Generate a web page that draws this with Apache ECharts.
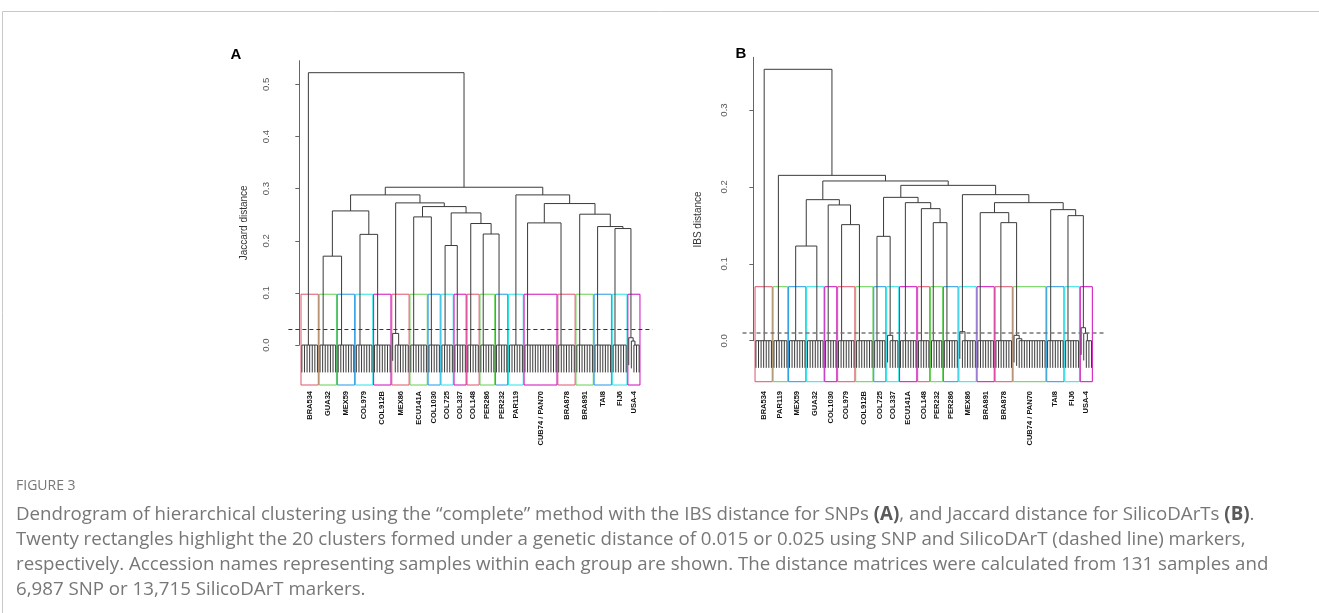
<!DOCTYPE html>
<html>
<head>
<meta charset="utf-8">
<script src="https://cdn.jsdelivr.net/npm/echarts@6/dist/echarts.min.js"></script>
<style>
  html, body { margin: 0; padding: 0; background: #fff; }
  #chart { width: 1319px; height: 613px; }
</style>
</head>
<body>
<div id="chart"></div>
<script>
// ---- panel A: SilicoDArT markers, Jaccard distance ----
// leaves per cluster (left to right), 131 samples in total
const sizesA = [7, 7, 7, 7, 7, 7, 7, 5, 5, 5, 5, 6, 5, 6, 13, 7, 7, 7, 6, 5]
const labelsA = ['BRA534', 'GUA32', 'MEX59', 'COL979', 'COL912B', 'MEX86', 'ECU141A', 'COL1030',
  'COL725', 'COL337', 'COL148', 'PER286', 'PER232', 'PAR119', 'CUB74 / PAN70', 'BRA878',
  'BRA891', 'TAI8', 'FIJ6', 'USA-4']
// where the near-zero sub tree of each cluster joins upward (leaf units from its first leaf)
const anchorsA = [2.5, 1.2, 1.3, 1.4, 1.2, 1.3, 1.1, 0.9, 1.2, 0.9, 1.1, 0.9, 1.0, 2.5, 1.0, 0.9, 1.1, 1.0, 0.7, 0.4]
// clusters whose first leaves join one by one above zero: [cluster, heights]
const chainsA = [[6, [0.0223]], [20, [0.014, 0.0077]]]
// merges between clusters, R hclust style: negative = cluster, positive = earlier merge
const mergesA = [
  [-2, -3, 0.1705], [-4, -5, 0.2123], [1, 2, 0.2573], [-9, -10, 0.1909], [-12, -13, 0.2130],
  [-11, 5, 0.2331], [4, 6, 0.2535], [-7, -8, 0.2458], [8, 7, 0.2656], [-6, 9, 0.2727],
  [3, 10, 0.2880], [-19, -20, 0.2235], [-18, 12, 0.2273], [-17, 13, 0.2510], [-15, -16, 0.2343],
  [15, 14, 0.2714], [-14, 16, 0.2880], [11, 17, 0.3027], [-1, 18, 0.5224]
]
const cutA = 0.025
const rectTopA = 0.0975
const hangA = 0.0525
const yRangeA = [-0.0766, 0.5454]
const ticksA = [0, 0.1, 0.2, 0.3, 0.4, 0.5]

// ---- panel B: SNP markers, IBS distance ----
const sizesB = [7, 6, 7, 7, 5, 7, 7, 5, 5, 7, 5, 5, 6, 7, 7, 7, 13, 7, 6, 5]
const labelsB = ['BRA534', 'PAR119', 'MEX59', 'GUA32', 'COL1030', 'COL979', 'COL912B', 'COL725',
  'COL337', 'ECU141A', 'COL148', 'PER232', 'PER286', 'MEX86', 'BRA891', 'BRA878',
  'CUB74 / PAN70', 'TAI8', 'FIJ6', 'USA-4']
const anchorsB = [3.2, 1.7, 2.4, 3.6, 1.0, 1.2, 1.1, 0.9, 1.0, 1.9, 1.1, 0.7, 1.0, 1.0, 0.9, 1.9, 1.0, 1.2, 0.9, 0.4]
const chainsB = [[9, [0.007]], [14, [0.0117]], [17, [0.007, 0.0026]], [20, [0.0169, 0.0096]]]
const mergesB = [
  [-3, -4, 0.1231], [-6, -7, 0.1509], [-5, 2, 0.1765], [1, 3, 0.1834], [-8, -9, 0.1357],
  [-12, -13, 0.1535], [-11, 6, 0.1717], [-10, 7, 0.1795], [5, 8, 0.1864], [-16, -17, 0.1535],
  [-15, 10, 0.1665], [-19, -20, 0.1626], [-18, 12, 0.1704], [11, 13, 0.1795], [-14, 14, 0.1899],
  [9, 15, 0.2020], [4, 16, 0.2077], [-2, 17, 0.2150], [-1, 18, 0.3529]
]
const cutB = 0.015
const rectTopB = 0.0702
const hangB = 0.0353
const yRangeB = [-0.0533, 0.3685]
const ticksB = [0, 0.1, 0.2, 0.3]

const xRange = [-4.2, 136.2]
const rectColors = ['#DF536B', '#61D04F', '#2297E6', '#28E2E5', '#CD0BBC']
const treeColor = '#3a3a3a'

const captionLines = [
  'Dendrogram of hierarchical clustering using the \u201ccomplete\u201d method with the IBS distance for SNPs {b|(A)}, and Jaccard distance for SilicoDArTs {b|(B)}.',
  'Twenty rectangles highlight the 20 clusters formed under a genetic distance of 0.015 or 0.025 using SNP and SilicoDArT (dashed line) markers,',
  'respectively. Accession names representing samples within each group are shown. The distance matrices were calculated from 131 samples and',
  '6,987 SNP or 13,715 SilicoDArT markers.'
]

// turn clusters + merges into line segments [x1, y1, x2, y2] in data units
function buildTree(sizes, anchors, chains, merges, hang) {
  const segs = []
  const nodes = []
  const spans = []
  const chainMap = new Map(chains)
  let start = 1
  sizes.forEach((n, i) => {
    const first = start
    const last = start + n - 1
    spans.push([first, last])
    const steps = chainMap.get(i + 1) || []
    const combStart = first + steps.length
    segs.push([combStart, 0, last, 0])
    for (let l = combStart; l <= last; l++)
      segs.push([l, 0, l, -hang])
    let x = combStart + anchors[i]
    let h = 0
    for (let j = steps.length - 1; j >= 0; j--) {
      const leaf = first + j
      const hj = steps[j]
      segs.push([leaf, hj, x, hj])
      segs.push([leaf, hj, leaf, hj - hang])
      segs.push([x, h, x, hj])
      x = (leaf + x) / 2
      h = hj
    }
    nodes.push([x, h])
    start = last + 1
  })
  const inner = []
  const pos = ref => (ref < 0 ? nodes[-ref - 1] : inner[ref - 1])
  merges.forEach(([a, b, h]) => {
    const pa = pos(a)
    const pb = pos(b)
    segs.push([pa[0], h, pb[0], h])
    segs.push([pa[0], pa[1], pa[0], h])
    segs.push([pb[0], pb[1], pb[0], h])
    inner.push([(pa[0] + pb[0]) / 2, h])
  })
  return { segs, spans }
}

function treeSeries(segs, gi, cut, cutColor, cutWidth) {
  return {
    type: 'custom',
    xAxisIndex: gi,
    yAxisIndex: gi,
    silent: true,
    data: segs,
    encode: { x: [0, 2], y: [1, 3] },
    renderItem: (params, api) => {
      const p1 = api.coord([api.value(0), api.value(1)])
      const p2 = api.coord([api.value(2), api.value(3)])
      return {
        type: 'line',
        shape: { x1: p1[0], y1: p1[1], x2: p2[0], y2: p2[1] },
        style: { stroke: treeColor, lineWidth: 1 },
      }
    },
    markLine: {
      silent: true,
      symbol: 'none',
      label: { show: false },
      lineStyle: { type: [4, 3], color: cutColor, width: cutWidth },
      data: [{ yAxis: cut }],
    },
  }
}

function clusterSeries(spans, labels, top, yMin, gi, labelGap) {
  return {
    type: 'custom',
    xAxisIndex: gi,
    yAxisIndex: gi,
    silent: true,
    data: spans.map(([f, l]) => [f - 0.34, l + 0.33]),
    encode: { x: [0, 1] },
    renderItem: (params, api) => {
      const i = params.dataIndex
      const a = api.coord([api.value(0), top])
      const b = api.coord([api.value(1), yMin])
      return {
        type: 'group',
        children: [
          {
            type: 'rect',
            shape: { x: a[0], y: a[1], width: b[0] - a[0], height: b[1] - a[1] },
            style: { fill: 'none', stroke: rectColors[i % 5], lineWidth: 1 },
          },
          {
            type: 'text',
            x: (a[0] + b[0]) / 2,
            y: b[1] + labelGap,
            rotation: Math.PI / 2,
            style: {
              text: labels[i],
              align: 'right',
              verticalAlign: 'middle',
              fontFamily: 'Liberation Sans',
              fontWeight: 'bold',
              fontSize: 7.5,
              fill: '#111',
            },
          },
        ],
      }
    },
  }
}

const treeA = buildTree(sizesA, anchorsA, chainsA, mergesA, hangA)
const treeB = buildTree(sizesB, anchorsB, chainsB, mergesB, hangB)

// plot boxes (pixels) of the two panels
const boxA = { left: 288.4, top: 60.7, width: 364.2, height: 324.3 }
const boxB = { left: 742.5, top: 57.3, width: 362.4, height: 324.4 }

function axisBox(box, yRange) {
  return { left: box.left, top: box.top, width: box.width, height: box.height * yRange[1] / (yRange[1] - yRange[0]) }
}

function hiddenX(gi) {
  return { gridIndex: gi, type: 'value', min: xRange[0], max: xRange[1], show: false }
}

function nameAxis(gi, yRange, name) {
  return {
    gridIndex: gi, type: 'value', min: yRange[0], max: yRange[1],
    axisLine: { show: false }, axisTick: { show: false }, axisLabel: { show: false }, splitLine: { show: false },
    name, nameLocation: 'middle', nameGap: 39,
    nameTextStyle: { fontFamily: 'Liberation Sans', fontSize: 10, color: '#333' },
  }
}

function tickAxis(gi, yRange, ticks, margin) {
  return {
    gridIndex: gi, type: 'value', min: 0, max: yRange[1],
    axisLine: { show: true, lineStyle: { color: '#666', width: 1 } },
    axisTick: { show: true, length: 4, customValues: ticks, lineStyle: { color: '#666' } },
    axisLabel: {
      customValues: ticks, rotate: 90, margin, color: '#555',
      fontFamily: 'Liberation Sans', fontSize: 9.6,
      formatter: v => v.toFixed(1),
    },
    splitLine: { show: false },
  }
}

const captionText = captionLines.map((line, i) => ({
  type: 'text',
  left: 16,
  top: 505 + i * 25,
  style: {
    text: line,
    fontFamily: 'Open Sans',
    fontSize: 18.7,
    fill: '#777',
    rich: { b: { fontFamily: 'Open Sans', fontSize: 18.7, fontWeight: 'bold', fill: '#5a5a5a' } },
  },
}))

const chart = echarts.init(document.getElementById('chart'))
chart.setOption({
  animation: false,
  grid: [
    boxA,
    boxB,
    axisBox(boxA, yRangeA),
    axisBox(boxB, yRangeB),
  ],
  xAxis: [hiddenX(0), hiddenX(1), hiddenX(2), hiddenX(3)],
  yAxis: [
    nameAxis(0, yRangeA, 'Jaccard distance'),
    nameAxis(1, yRangeB, 'IBS distance'),
    tickAxis(2, yRangeA, ticksA, 17),
    tickAxis(3, yRangeB, ticksB, 13),
  ],
  series: [
    clusterSeries(treeA.spans, labelsA, rectTopA, yRangeA[0], 0, 6),
    treeSeries(treeA.segs, 0, cutA, '#333', 1),
    clusterSeries(treeB.spans, labelsB, rectTopB, yRangeB[0], 1, 9.3),
    treeSeries(treeB.segs, 1, cutB, '#777', 1.5),
  ],
  graphic: [
    { type: 'line', shape: { x1: 2.5, y1: 11.5, x2: 1319, y2: 11.5 }, style: { stroke: '#c8c8c8', lineWidth: 1 } },
    { type: 'line', shape: { x1: 2.5, y1: 11.5, x2: 2.5, y2: 613 }, style: { stroke: '#c8c8c8', lineWidth: 1 } },
    { type: 'text', x: 236, y: 55, style: { text: 'A', fontFamily: 'Liberation Sans', fontWeight: 'bold', fontSize: 15, fill: '#000', align: 'center', verticalAlign: 'middle' } },
    { type: 'text', x: 741, y: 54, style: { text: 'B', fontFamily: 'Liberation Sans', fontWeight: 'bold', fontSize: 15, fill: '#000', align: 'center', verticalAlign: 'middle' } },
    { type: 'text', left: 16, top: 479, style: { text: 'FIGURE 3', fontFamily: 'Open Sans', fontSize: 14, fill: '#777' } },
    ...captionText,
  ],
})
</script>
</body>
</html>
